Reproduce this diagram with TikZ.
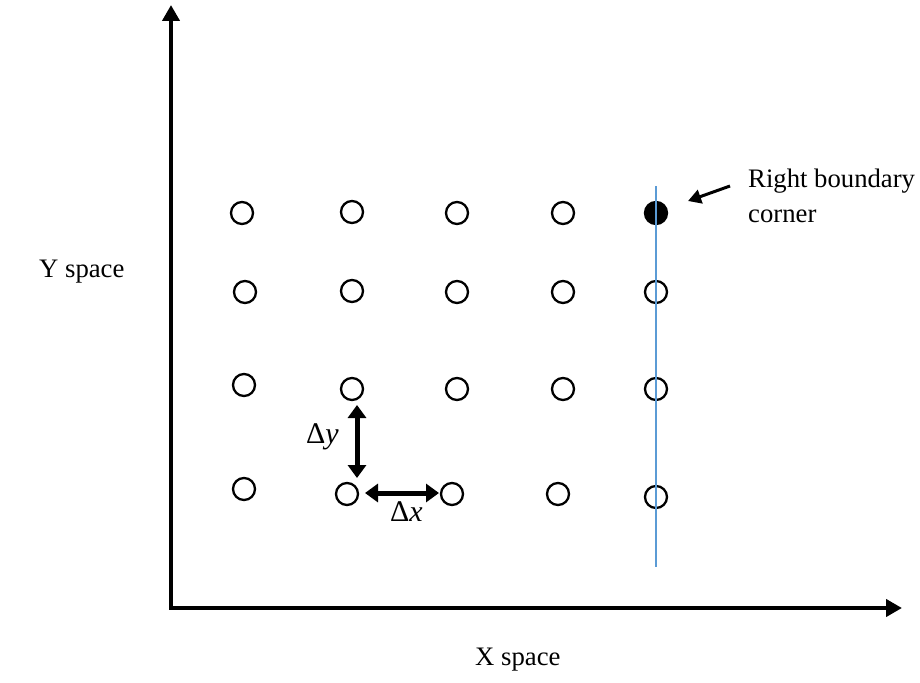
\documentclass[tikz,border=0pt]{standalone}
\usepackage{fontspec}
\setmainfont{Liberation Serif}
\usetikzlibrary{arrows.meta}
\definecolor{bline}{RGB}{91,155,213}
\begin{document}
\begin{tikzpicture}[x=1pt,y=-1pt,
  pt/.style={circle,draw=black,line width=2.3pt,minimum size=22pt,inner sep=0pt},
  fpt/.style={pt,fill=black},
  lbl/.style={font=\fontsize{26.7}{35}\selectfont,inner sep=0pt},
  dlbl/.style={font=\fontsize{30}{35}\selectfont,inner sep=0pt},
  axis/.style={line width=4.3pt,{Triangle[length=16pt,width=17pt]}-{Triangle[length=16pt,width=17pt]}},
  darr/.style={line width=5pt,{Triangle[length=13pt,width=18pt]}-{Triangle[length=13pt,width=18pt]}},
  parr/.style={line width=3pt,-{Triangle[length=13pt,width=14pt]}}]
\useasboundingbox (0,0) rectangle (920,682);
% axes
\coordinate (ytip) at (171,5);
\coordinate (origin) at (171,608);
\coordinate (xtip) at (902,608);
\draw[axis] (ytip) -- (origin) -- (xtip);
% grid points
\node[pt] (n11) at (242,213) {};
\node[pt] (n12) at (352,212) {};
\node[pt] (n13) at (457,213) {};
\node[pt] (n14) at (563,213) {};
\node[fpt] (n15) at (656,213) {};
\node[pt] (n21) at (245,292) {};
\node[pt] (n22) at (352,291) {};
\node[pt] (n23) at (457,292) {};
\node[pt] (n24) at (563,292) {};
\node[pt] (n25) at (656,292) {};
\node[pt] (n31) at (244,385) {};
\node[pt] (n32) at (352,389) {};
\node[pt] (n33) at (457,389) {};
\node[pt] (n34) at (563,389) {};
\node[pt] (n35) at (656,389) {};
\node[pt] (n41) at (244,489) {};
\node[pt] (n42) at (347,494) {};
\node[pt] (n43) at (452,494) {};
\node[pt] (n44) at (558,494) {};
\node[pt] (n45) at (656,497) {};
% boundary line
\coordinate (btop) at (656,186);
\coordinate (bbot) at (656,567);
\draw[bline,line width=1.3pt] (btop) -- (bbot);
% delta arrows
\coordinate (dyt) at (357,405);
\coordinate (dyb) at (357,478);
\coordinate (dxl) at (365,493);
\coordinate (dxr) at (439,493);
\draw[darr] (dyt) -- (dyb);
\draw[darr] (dxl) -- (dxr);
\node[dlbl,anchor=base west] (dy) at (306,443) {Δ\textit{y}};
\node[dlbl,anchor=base west] (dx) at (390,521) {Δ\textit{x}};
% pointer
\coordinate (ps) at (730,186);
\coordinate (pe) at (688,201);
\draw[parr] (ps) -- (pe);
\node[lbl,anchor=north west,align=left] (rb) at (748,169) {Right boundary\\corner};
% axis labels
\node[lbl,anchor=base west] (ys) at (39,277) {Y space};
\node[lbl,anchor=base west] (xs) at (475,665) {X space};
\end{tikzpicture}
\end{document}
